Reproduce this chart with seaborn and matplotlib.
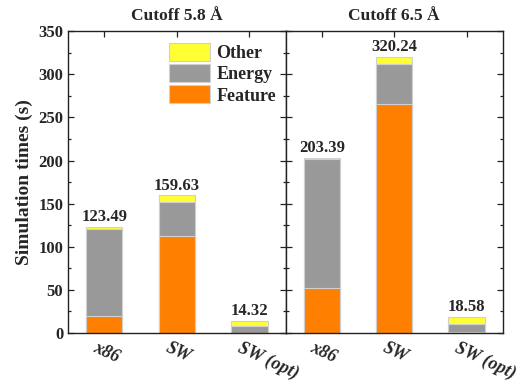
import matplotlib
matplotlib.use("Agg")
import matplotlib.pyplot as plt
import matplotlib.transforms as mtrans
import seaborn as sns
import pandas as pd
import numpy as np
from matplotlib.ticker import MultipleLocator

sns.set_style("ticks")
plt.rcParams['font.family'] = ['Liberation Serif', 'DejaVu Serif']
plt.rcParams['font.weight'] = 'bold'

categories = ["x86", "SW", "SW (opt)"]
panels = ["Cutoff 5.8 Å", "Cutoff 6.5 Å"]
feature_58 = [20.0, 113.0, 0.5]
energy_58 = [101.0, 39.5, 8.0]
total_58 = [123.49, 159.63, 14.32]
feature_65 = [52.3, 265.5, 0.8]
energy_65 = [149.5, 46.5, 10.0]
total_65 = [203.39, 320.24, 18.58]

c_other = "#FFFF33"
c_energy = "#999999"
c_feature = "#FF8000"
edge = "#d0d0d0"

fig = plt.figure(figsize=(5.32, 3.81), dpi=100)
ax1 = fig.add_axes([0.128, 0.126, 0.409, 0.792])
ax2 = fig.add_axes([0.537, 0.126, 0.408, 0.792])

data = [(feature_58, energy_58, total_58), (feature_65, energy_65, total_65)]
for ax, title, (feat, ener, tot) in zip([ax1, ax2], panels, data):
    df = pd.DataFrame({"cat": categories, "feature": feat,
                       "fe": np.array(feat) + np.array(ener), "total": tot})
    sns.barplot(data=df, x="cat", y="total", color=c_other, width=0.5,
                edgecolor=edge, linewidth=0.8, saturation=1, ax=ax, label="Other")
    sns.barplot(data=df, x="cat", y="fe", color=c_energy, width=0.5,
                edgecolor=edge, linewidth=0.8, saturation=1, ax=ax, label="Energy")
    sns.barplot(data=df, x="cat", y="feature", color=c_feature, width=0.5,
                edgecolor=edge, linewidth=0.8, saturation=1, ax=ax, label="Feature")
    for i, t in enumerate(tot):
        ax.text(i, t + 2, f"{t:.2f}", ha="center", va="bottom",
                fontsize=12, fontweight="bold")
    ax.set_ylim(0, 350)
    ax.set_xlim(-0.5, 2.5)
    ax.yaxis.set_major_locator(MultipleLocator(50))
    ax.yaxis.set_minor_locator(MultipleLocator(25))
    ax.tick_params(axis="both", which="both", direction="in", top=True, right=True,
                   color="#222222")
    ax.tick_params(axis="both", which="major", length=4.5, width=0.9)
    ax.tick_params(axis="y", which="minor", length=2.5, width=0.9)
    ax.set_xlabel("")
    ax.set_title(title, fontsize=12.5, fontweight="bold", pad=8)
    for s in ax.spines.values():
        s.set_linewidth(1.0)
        s.set_color("#222222")
    if ax.get_legend() is not None:
        ax.get_legend().remove()
    ax.set_xticks(range(3))
    ax.set_xticklabels(categories, rotation=-25, ha="left", rotation_mode="anchor",
                       fontstyle="italic", fontweight="bold", fontsize=13)
    for lab in ax.get_xticklabels():
        lab.set_transform(lab.get_transform() +
                          mtrans.ScaledTranslation(-5/72, -1/72, fig.dpi_scale_trans))

ax1.set_ylabel("Simulation times (s)", fontsize=14, fontweight="bold", labelpad=4)
for lab in ax1.get_yticklabels():
    lab.set_fontsize(12)
    lab.set_fontweight("bold")
ax2.set_ylabel("")
ax2.tick_params(axis="y", labelleft=False)

h, l = ax1.get_legend_handles_labels()
ax1.legend(h, l, loc="upper right", bbox_to_anchor=(1.01, 1.0), frameon=False,
           fontsize=13, handlelength=2.3, handleheight=1.15, labelspacing=0.12,
           handletextpad=0.35, borderaxespad=0.25)

fig.savefig("out.png", dpi=100)
